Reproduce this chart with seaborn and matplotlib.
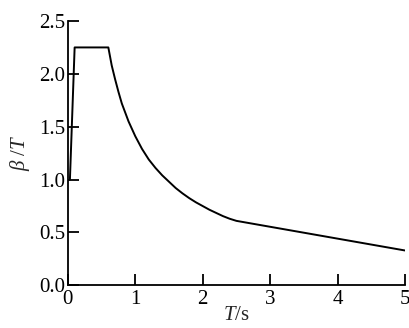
import matplotlib
matplotlib.use("Agg")
import matplotlib.pyplot as plt
import seaborn as sns
import pandas as pd

# Data
T_values = [0.03, 0.10, 0.60, 0.65, 0.70, 0.75, 0.80, 0.90, 1.00, 1.10, 1.20, 1.30, 1.40, 1.50,
            1.60, 1.70, 1.80, 1.90, 2.00, 2.10, 2.20, 2.30, 2.40, 2.50, 5.00]
beta_values = [1.00, 2.25, 2.25, 2.08, 1.95, 1.83, 1.72, 1.55, 1.41, 1.29, 1.19, 1.11, 1.04, 0.98,
               0.92, 0.87, 0.825, 0.785, 0.75, 0.715, 0.685, 0.655, 0.63, 0.61, 0.33]
x_ticks = [0, 1, 2, 3, 4, 5]
y_ticks = [0.0, 0.5, 1.0, 1.5, 2.0, 2.5]

sns.set_style("ticks")
plt.rcParams["font.family"] = ["Liberation Serif", "DejaVu Serif"]
plt.rcParams["mathtext.fontset"] = "custom"
plt.rcParams["mathtext.rm"] = "Liberation Serif"
plt.rcParams["mathtext.it"] = "Liberation Serif:italic"

df = pd.DataFrame({"T": T_values, "beta": beta_values})

fig = plt.figure(figsize=(4.09, 3.28), dpi=100)
ax = fig.add_axes([0.166, 0.13, 0.824, 0.806])
sns.lineplot(data=df, x="T", y="beta", color="black", linewidth=1.4, ax=ax, sort=False)

ax.set_xlim(0, 5)
ax.set_ylim(0, 2.5)
ax.set_xticks(x_ticks)
ax.set_yticks(y_ticks)
ax.set_xticklabels([str(v) for v in x_ticks])
ax.set_yticklabels([f"{v:.1f}" for v in y_ticks])
ax.tick_params(direction="in", length=8, width=1.3, labelsize=15, colors="black")
ax.tick_params(axis="y", pad=2)
ax.tick_params(axis="x", pad=3.5)
for s in ["top", "right"]:
    ax.spines[s].set_visible(False)
for s in ["left", "bottom"]:
    ax.spines[s].set_linewidth(1.3)
    ax.spines[s].set_color("black")

ax.set_xlabel(r"$T$/s", fontsize=15, labelpad=-2)
ax.set_ylabel(r"$\beta$ /$T$", fontsize=15, labelpad=5)

fig.savefig("out.png", dpi=100)
